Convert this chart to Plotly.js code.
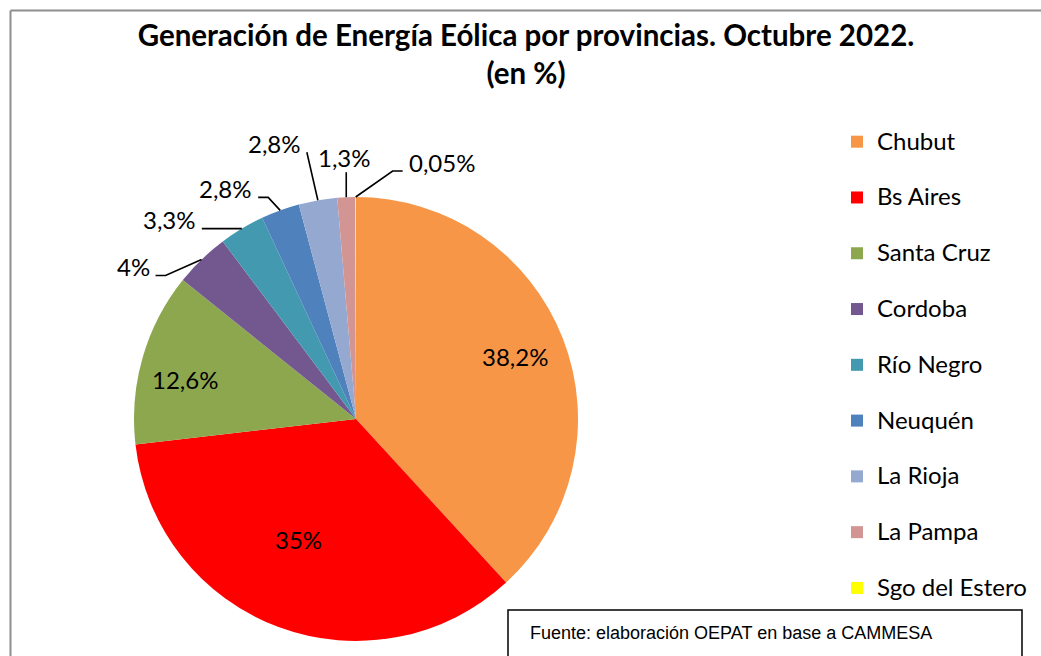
<!DOCTYPE html>
<html>
<head>
<meta charset="utf-8">
<script src="https://cdn.plot.ly/plotly-3.0.1.min.js"></script>
<style>
  html, body { margin: 0; padding: 0; background: #fff; }
  #chart { width: 1041px; height: 656px; }
</style>
</head>
<body>
<div id="chart"></div>
<script>
// provinces and their share of wind generation, October 2022
const provincias = ['Chubut', 'Bs Aires', 'Santa Cruz', 'Cordoba', 'Río Negro',
                    'Neuquén', 'La Rioja', 'La Pampa', 'Sgo del Estero'];
const porcentajes = [38.2, 35, 12.6, 4, 3.3, 2.8, 2.8, 1.3, 0.05];
const colores = ['#F79646', '#FF0000', '#8DA74F', '#72588F', '#4399AF',
                 '#4F81BD', '#95A9D0', '#D39594', '#FFFF00'];

const W = 1041, H = 656;
const CX = 356, CY = 419, R = 222;

// label placement, like the hand-placed labels of the original:
// inside labels sit at [fraction of radius, degrees off the mid angle],
// outside ones hang on a leader line [dx, dy from slice edge, elbow, side]
const radioInterior = {0: [0.77, 0], 1: [0.6, 5], 2: [0.79, -3]};
const guias = {
  3: [-46, 16, 10, 'left'],
  4: [-40, 0, 0, 'left'],
  5: [-22, -13, 10, 'left'],
  6: [-11, -48, 0, 'left'],
  7: [0, -25, 0, 'top'],
  8: [47, -26, 10, 'right']
};

// decimal comma like the original
const etiquetas = porcentajes.map(v => String(v).replace('.', ',') + '%');
// two-line legend entries give the wide spacing of the original legend
const leyenda = provincias.map(p => '<span style="font-size:24px">' + p + '</span><br> ');

const px = x => x / W;
const py = y => 1 - y / H;

var total = porcentajes.reduce((a, b) => a + b, 0);
var annotations = [], shapes = [];
var acum = 0;
porcentajes.forEach(function(v, i) {
  var mid = (acum + v / 2) / total * 2 * Math.PI;
  acum += v;
  var font = {family: 'Lato, sans-serif', size: 24, color: '#000'};
  if (i in radioInterior) {
    var r = radioInterior[i][0] * R;
    var ang = mid + radioInterior[i][1] * Math.PI / 180;
    annotations.push({text: etiquetas[i], showarrow: false, font: font,
      xref: 'paper', yref: 'paper', x: px(CX + r * Math.sin(ang)), y: py(CY - r * Math.cos(ang)),
      xanchor: 'center', yanchor: 'middle'});
    return;
  }
  var s = Math.sin(mid), c = Math.cos(mid);
  var g = guias[i];
  var ex = CX + R * s, ey = CY - R * c;
  var fx = ex + g[0], fy = ey + g[1];
  var kx = g[3] === 'right' ? fx - g[2] : fx + (g[3] === 'left' ? g[2] : 0);
  shapes.push({type: 'path', xref: 'paper', yref: 'paper',
    path: 'M' + px(ex) + ',' + py(ey) + ' L' + px(kx) + ',' + py(fy) + ' L' + px(fx) + ',' + py(fy),
    line: {color: '#000', width: 1.6}});
  var a = {text: etiquetas[i], showarrow: false, font: font, xref: 'paper', yref: 'paper'};
  if (g[3] === 'left') {
    Object.assign(a, {x: px(fx - 4), y: py(fy - 9), xanchor: 'right', yanchor: 'middle'});
  } else if (g[3] === 'right') {
    Object.assign(a, {x: px(fx + 4), y: py(fy - 9), xanchor: 'left', yanchor: 'middle'});
  } else {
    Object.assign(a, {x: px(fx - 2), y: py(fy - 15), xanchor: 'center', yanchor: 'middle'});
  }
  annotations.push(a);
});

var pie = {
  type: 'pie',
  labels: leyenda,
  values: porcentajes,
  textinfo: 'none',
  sort: false,
  direction: 'clockwise',
  rotation: 0,
  hoverinfo: 'none',
  marker: {colors: colores, line: {width: 0}},
  domain: {
    x: [(CX - R) / W, (CX + R) / W],
    y: [(H - CY - R) / H, (H - CY + R) / H]
  }
};

// outer frame (top and left edges visible) and source box
shapes.push(
  {type: 'line', xref: 'paper', yref: 'paper', x0: px(10.5), x1: 1, y0: py(10.5), y1: py(10.5),
   line: {color: '#8E8E8E', width: 2}},
  {type: 'line', xref: 'paper', yref: 'paper', x0: px(10.5), x1: px(10.5), y0: 0, y1: py(10.5),
   line: {color: '#8E8E8E', width: 2}},
  {type: 'rect', xref: 'paper', yref: 'paper', x0: px(508), x1: px(1022), y0: -0.01, y1: py(610),
   line: {color: '#000', width: 1.5}, fillcolor: '#fff'}
);
annotations.push(
  {text: 'Fuente: elaboración OEPAT en base a CAMMESA', xref: 'paper', yref: 'paper',
   x: px(528), xanchor: 'left', y: py(633), yanchor: 'middle', showarrow: false,
   font: {family: 'Liberation Sans, Arial, sans-serif', size: 18, color: '#000'}}
);

var layout = {
  width: W,
  height: H,
  margin: {l: 0, r: 0, t: 0, b: 0},
  paper_bgcolor: '#fff',
  font: {family: 'Lato, sans-serif', color: '#000'},
  title: {
    text: 'Generación de Energía Eólica por provincias. Octubre 2022.<br>(en %)',
    font: {family: 'Lato, sans-serif', size: 29.5, weight: 700, color: '#000'},
    x: px(526), xanchor: 'center',
    y: py(46), yanchor: 'top'
  },
  showlegend: true,
  legend: {
    x: px(837), xanchor: 'left',
    y: py(122), yanchor: 'top',
    valign: 'top',
    font: {family: 'Lato, sans-serif', size: 20.3, color: '#000'},
    bgcolor: 'rgba(0,0,0,0)'
  },
  shapes: shapes,
  annotations: annotations
};

Plotly.newPlot('chart', [pie], layout, {displayModeBar: false, staticPlot: true});
</script>
</body>
</html>
